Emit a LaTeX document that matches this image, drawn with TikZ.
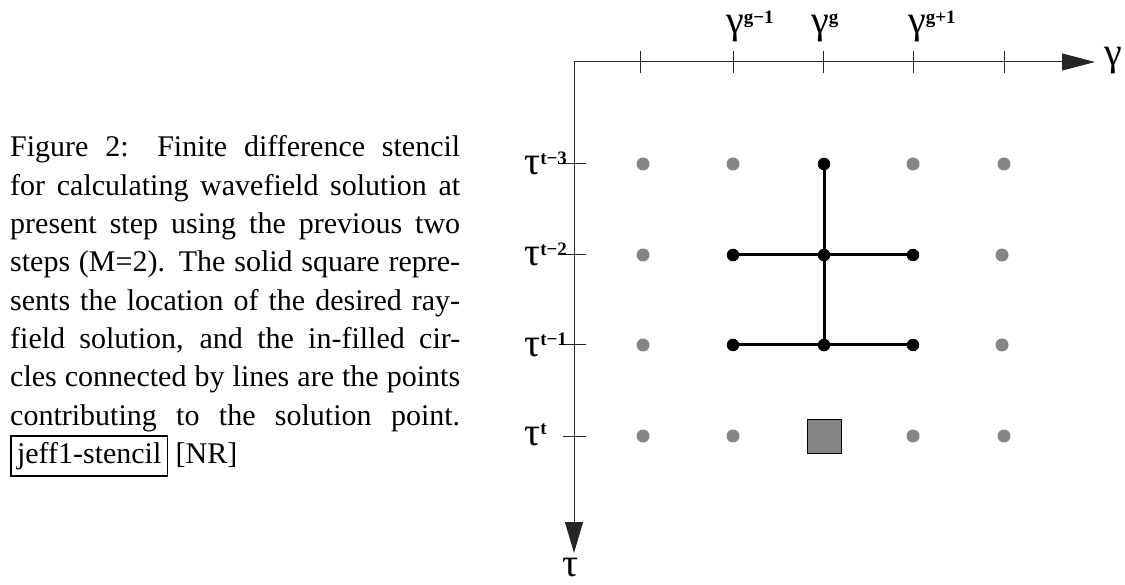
\documentclass[tikz,border=0pt]{standalone}
\usepackage{fontspec}
\setmainfont{Liberation Serif}
\usetikzlibrary{arrows.meta}
\definecolor{dotgray}{HTML}{858585}
\tikzset{
  gdot/.style={circle, fill=dotgray, inner sep=0pt, minimum size=13pt},
  bdot/.style={circle, fill=black, inner sep=0pt, minimum size=12.5pt},
  axisline/.style={line width=1pt, draw=black!85},
  tickmark/.style={line width=1pt, draw=black!85},
  stencil/.style={line width=3pt, draw=black},
  glabel/.style={inner sep=0pt, anchor=base west, font=\fontsize{40}{40}\selectfont},
  solsq/.style={rectangle, draw=black, line width=0.8pt, fill=dotgray, minimum size=34pt, inner sep=0pt},
}
\newcommand{\mysup}[1]{\raisebox{10pt}{\fontsize{19}{19}\selectfont\bfseries #1}}
\begin{document}
\begin{tikzpicture}[x=1pt,y=-1pt]
\useasboundingbox (0,0) rectangle (1125,585);
% caption
\node[anchor=base west, inner sep=0pt] (cap) at (10,157) {\parbox[t]{450pt}{\fontsize{30}{38.3}\selectfont
\hyphenpenalty=10000 \exhyphenpenalty=10000 \tolerance=10000 \fboxsep=5.5pt \fboxrule=1.3pt
Figure 2:  Finite difference stencil\linebreak
for calculating wavefield solution at\linebreak
present step using the previous two\linebreak
steps (M=2). The solid square repre-\linebreak
sents the location of the desired ray-\linebreak
field solution, and the in-filled cir-\linebreak
cles connected by lines are the points\linebreak
contributing to the solution point.\linebreak
\fbox{jeff1-stencil} [NR]}};
% axes
\coordinate (O) at (574,62);
\coordinate (xend) at (1095,62);
\coordinate (yend) at (574,553);
\draw[axisline, -{Triangle[length=33pt,width=17pt]}] (O) -- (xend);
\draw[axisline, -{Triangle[length=31pt,width=18pt]}] (O) -- (yend);
\node[glabel] (gamlab) at (1104,66) {γ};
\node[glabel] (taulab) at (562,576) {τ};
% ticks on gamma axis
\foreach \x in {640,733,823,913,1004} \draw[tickmark] (\x,51) -- (\x,73);
% ticks on tau axis
\foreach \y in {164,255,345,436} \draw[tickmark] (563,\y) -- (586,\y);
% axis labels
\node[glabel] (g1) at (726,33.5) {γ\mysup{g−1}};
\node[glabel] (g2) at (811,33.5) {γ\mysup{g}};
\node[glabel] (g3) at (908,33.5) {γ\mysup{g+1}};
\node[glabel] (t3) at (524,175) {τ\mysup{t−3}};
\node[glabel] (t2) at (524,266) {τ\mysup{t−2}};
\node[glabel] (t1) at (524,356) {τ\mysup{t−1}};
\node[glabel] (t0) at (524,445) {τ\mysup{t}};
% grey dots
\node[gdot] (a31) at (643,164) {};
\node[gdot] (a32) at (733,164) {};
\node[gdot] (a34) at (913,164) {};
\node[gdot] (a35) at (1004,164) {};
\node[gdot] (a21) at (643,255) {};
\node[gdot] (a25) at (1002,255) {};
\node[gdot] (a11) at (643,345) {};
\node[gdot] (a15) at (1002,345) {};
\node[gdot] (a01) at (643,436) {};
\node[gdot] (a02) at (733,436) {};
\node[gdot] (a04) at (913,436) {};
\node[gdot] (a05) at (1004,436) {};
% solution square
\node[solsq] (sol) at (824,436) {};
% black stencil dots
\node[bdot] (b33) at (824,164) {};
\node[bdot] (b22) at (733,255) {};
\node[bdot] (b23) at (824,255) {};
\node[bdot] (b24) at (913,255) {};
\node[bdot] (b12) at (733,345) {};
\node[bdot] (b13) at (824,345) {};
\node[bdot] (b14) at (913,345) {};
\draw[stencil] (b33.center) -- (b23.center) -- (b13.center);
\draw[stencil] (b22.center) -- (b23.center) -- (b24.center);
\draw[stencil] (b12.center) -- (b13.center) -- (b14.center);
\end{tikzpicture}
\end{document}
